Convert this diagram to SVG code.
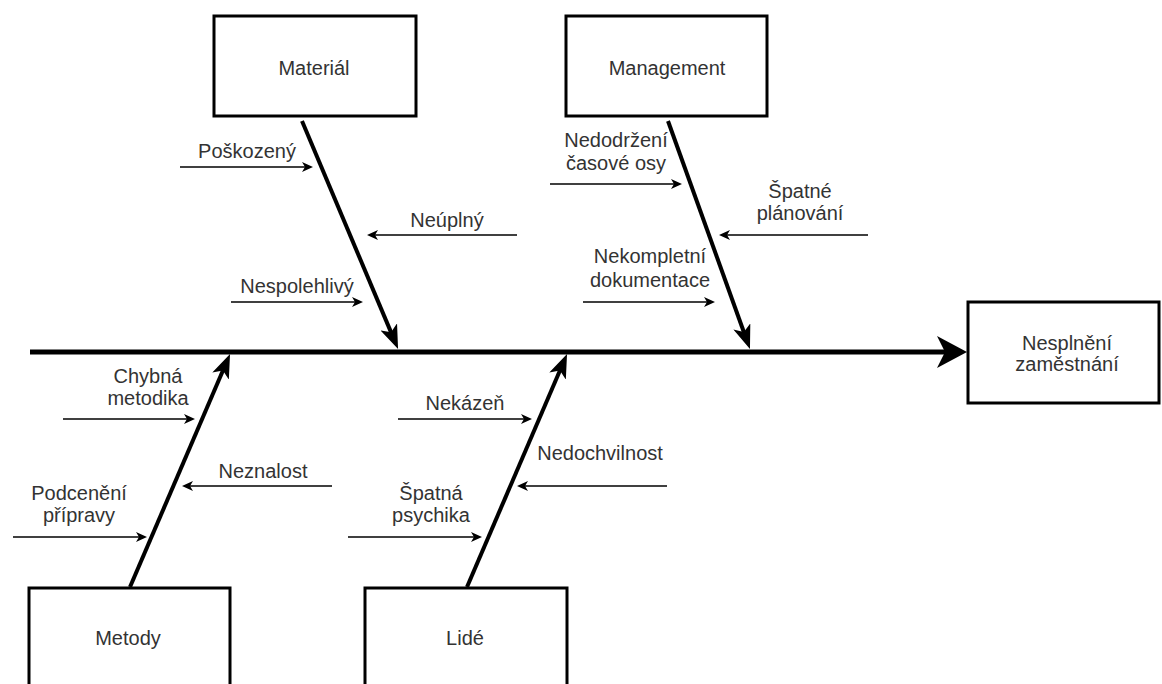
<svg xmlns="http://www.w3.org/2000/svg" width="1162" height="684" viewBox="0 0 1162 684">
<style>
.box{fill:#fff;stroke:#000;stroke-width:3}
.t{font-family:"Liberation Sans",Arial,sans-serif;font-size:20px;fill:#333;text-anchor:middle}
.spine{stroke:#000;stroke-width:5;fill:none}
.bone{stroke:#000;stroke-width:4;fill:none}
.sub{stroke:#000;stroke-width:1.5;fill:none}
</style>
<defs>
<marker id="big" markerUnits="userSpaceOnUse" viewBox="0 0 30 32" markerWidth="30" markerHeight="32" refX="13" refY="16" orient="auto">
<path d="M0,0 L30,16 L0,32 L8,16 Z" fill="#000"/>
</marker>
<marker id="mid" markerUnits="userSpaceOnUse" viewBox="0 0 24 18" markerWidth="24" markerHeight="18" refX="12" refY="9" orient="auto">
<path d="M0,0 L24,9 L0,18 L6,9 Z" fill="#000"/>
</marker>
<marker id="small" markerUnits="userSpaceOnUse" viewBox="0 0 11 10" markerWidth="11" markerHeight="10" refX="4" refY="5" orient="auto">
<path d="M0,0 L11,5 L0,10 L3,5 Z" fill="#000"/>
</marker>
</defs>

<g id="connectors">
<line class="spine" x1="30" y1="352" x2="950" y2="352" marker-end="url(#big)"/>
<line class="bone" x1="302" y1="121" x2="393.4" y2="337.9" marker-end="url(#mid)"/>
<line class="bone" x1="668" y1="121" x2="745.9" y2="337.7" marker-end="url(#mid)"/>
<line class="bone" x1="130" y1="587" x2="225.3" y2="365" marker-end="url(#mid)"/>
<line class="bone" x1="467" y1="587" x2="562.3" y2="365" marker-end="url(#mid)"/>
<line class="sub" x1="180" y1="167" x2="306" y2="167" marker-end="url(#small)"/>
<line class="sub" x1="517" y1="235" x2="374" y2="235" marker-end="url(#small)"/>
<line class="sub" x1="231" y1="302" x2="356" y2="302" marker-end="url(#small)"/>
<line class="sub" x1="550" y1="184" x2="675" y2="184" marker-end="url(#small)"/>
<line class="sub" x1="868" y1="235" x2="726" y2="235" marker-end="url(#small)"/>
<line class="sub" x1="583" y1="302" x2="708" y2="302" marker-end="url(#small)"/>
<line class="sub" x1="63" y1="419" x2="188" y2="419" marker-end="url(#small)"/>
<line class="sub" x1="332" y1="486" x2="189" y2="486" marker-end="url(#small)"/>
<line class="sub" x1="13" y1="537" x2="140" y2="537" marker-end="url(#small)"/>
<line class="sub" x1="398" y1="419" x2="525" y2="419" marker-end="url(#small)"/>
<line class="sub" x1="667" y1="486" x2="524" y2="486" marker-end="url(#small)"/>
<line class="sub" x1="348" y1="537" x2="475" y2="537" marker-end="url(#small)"/>
</g>

<g id="material">
<rect class="box" x="214" y="16" width="202" height="100"/>
<text class="t" x="314" y="75">Materiál</text>
</g>
<g id="management">
<rect class="box" x="566" y="16" width="201" height="100"/>
<text class="t" x="667" y="75">Management</text>
</g>
<g id="nesplneni">
<rect class="box" x="968" y="302" width="191" height="101"/>
<text class="t" x="1067" y="350">Nesplnění</text>
<text class="t" x="1067" y="371">zaměstnání</text>
</g>
<g id="metody">
<rect class="box" x="29" y="588" width="201" height="110"/>
<text class="t" x="128" y="645">Metody</text>
</g>
<g id="lide">
<rect class="box" x="365" y="588" width="202" height="110"/>
<text class="t" x="465" y="645">Lidé</text>
</g>

<g id="labels">
<text class="t" x="247" y="158">Poškozený</text>
<text class="t" x="447" y="227">Neúplný</text>
<text class="t" x="297" y="293">Nespolehlivý</text>
<text class="t" x="616" y="147">Nedodržení</text>
<text class="t" x="616" y="170">časové osy</text>
<text class="t" x="800" y="198">Špatné</text>
<text class="t" x="800" y="220">plánování</text>
<text class="t" x="650" y="263">Nekompletní</text>
<text class="t" x="650" y="287">dokumentace</text>
<text class="t" x="148" y="383">Chybná</text>
<text class="t" x="148" y="405">metodika</text>
<text class="t" x="263" y="478">Neznalost</text>
<text class="t" x="79" y="500">Podcenění</text>
<text class="t" x="79" y="522">přípravy</text>
<text class="t" x="465" y="410">Nekázeň</text>
<text class="t" x="600" y="460">Nedochvilnost</text>
<text class="t" x="431" y="500">Špatná</text>
<text class="t" x="431" y="522">psychika</text>
</g>
</svg>
